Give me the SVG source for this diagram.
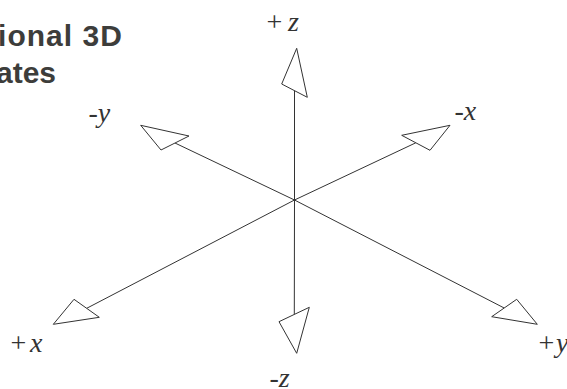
<svg xmlns="http://www.w3.org/2000/svg" width="567" height="389" viewBox="0 0 567 389">
  <style>
    .title { font-family: "Liberation Sans", Arial, sans-serif; font-weight: bold; font-size: 30px; fill: #3d3d3b; }
    .lbl { font-family: "Liberation Serif", "Times New Roman", serif; font-size: 28px; fill: #333333; }
    .it { font-style: italic; }
    .ax { stroke: #333333; stroke-width: 1; fill: none; }
    .head { stroke: #333333; stroke-width: 1; fill: #ffffff; stroke-linejoin: miter; }
  </style>
  <rect width="567" height="389" fill="#ffffff"/>
  <g id="title">
    <text class="title" x="-2" y="46" textLength="124" lengthAdjust="spacing">ional 3D</text>
    <text class="title" x="-4" y="83">ates</text>
  </g>
  <g id="connectors">
    <line class="ax" x1="294.5" y1="200" x2="294.5" y2="90.7"/>
    <line class="ax" x1="294.5" y1="200" x2="294.3" y2="314.5"/>
    <line class="ax" x1="294.5" y1="200" x2="175" y2="143"/>
    <line class="ax" x1="294.5" y1="200" x2="415.8" y2="142.8"/>
    <line class="ax" x1="294.5" y1="200" x2="86.7" y2="308.3"/>
    <line class="ax" x1="294.5" y1="200" x2="504.2" y2="308"/>
    <polygon class="head" points="296.7,48.3 281.7,84 307.3,97.3"/>
    <polygon class="head" points="296.7,353.3 279,321.7 309.3,307.3"/>
    <polygon class="head" points="140.7,125.3 161,150 189,136"/>
    <polygon class="head" points="450,125.3 401.7,135.3 430,150.3"/>
    <polygon class="head" points="53.3,324.3 74,299.3 99.3,317.3"/>
    <polygon class="head" points="537.3,324.3 491.7,316.7 516.7,299.3"/>
  </g>
  <g id="plus-z"><text class="lbl" x="266.5" y="31">+<tspan class="it" x="288">z</tspan></text></g>
  <g id="minus-z"><text class="lbl it" x="269.5" y="387">-z</text></g>
  <g id="minus-y"><text class="lbl it" x="88.5" y="122">-y</text></g>
  <g id="minus-x"><text class="lbl it" x="454.5" y="120">-x</text></g>
  <g id="plus-x"><text class="lbl" x="10.5" y="352">+<tspan class="it" x="30">x</tspan></text></g>
  <g id="plus-y"><text class="lbl" x="538.5" y="352">+<tspan class="it" x="556">y</tspan></text></g>
</svg>
